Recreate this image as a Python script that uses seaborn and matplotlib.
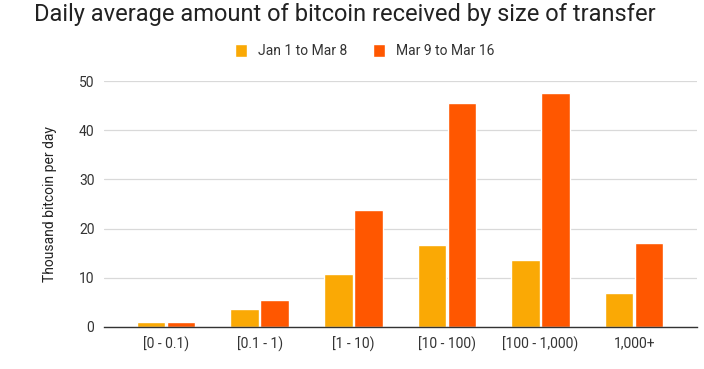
import pandas as pd
import matplotlib.pyplot as plt
import seaborn as sns

# Data (thousand bitcoin per day)
categories = ["[0 - 0.1)", "[0.1 - 1)", "[1 - 10)", "[10 - 100)", "[100 - 1,000)", "1,000+"]
jan_to_mar8 = [1.0, 3.7, 10.8, 16.6, 13.6, 7.0]
mar9_to_mar16 = [1.0, 5.5, 23.8, 45.6, 47.5, 17.0]
series_names = ["Jan 1 to Mar 8", "Mar 9 to Mar 16"]
colors = ["#FAA905", "#FF5700"]

df = pd.DataFrame({
    "size": categories * 2,
    "value": jan_to_mar8 + mar9_to_mar16,
    "period": [series_names[0]] * len(categories) + [series_names[1]] * len(categories),
})

sns.set_theme(style="white")
plt.rcParams["font.family"] = ["Roboto", "DejaVu Sans"]

fig = plt.figure(figsize=(7.04, 3.69), dpi=100)
ax = fig.add_axes([0.148, 0.114, 0.842, 0.666])

sns.barplot(data=df, x="size", y="value", hue="period", palette=colors,
            width=0.64, gap=0.05, saturation=1, ax=ax)

ax.set_xlim(-0.66, 5.67)
ax.set_ylim(0, 50)
ax.set_yticks([0, 10, 20, 30, 40, 50])
ax.yaxis.grid(True, color="#d9d9d9", linewidth=0.9)
ax.set_axisbelow(True)
for s in ["top", "right", "left"]:
    ax.spines[s].set_visible(False)
ax.spines["bottom"].set_color("#333333")
ax.spines["bottom"].set_linewidth(1.0)
ax.tick_params(axis="both", length=0, labelsize=10, colors="#333333", pad=7)
ax.set_xlabel("")
ax.set_ylabel("Thousand bitcoin per day", fontsize=10, color="#222222", labelpad=16)

ax.legend(loc="upper center", ncol=2, frameon=False, fontsize=10,
          handlelength=0.9, handleheight=1.1, columnspacing=1.8,
          handletextpad=0.8, labelcolor="#333333")
ax.legend_.set_bbox_to_anchor((0.518, 0.915), transform=fig.transFigure)

fig.text(0.048, 0.96, "Daily average amount of bitcoin received by size of transfer",
         fontsize=17, color="#222222", va="center", ha="left")

fig.savefig("out.png", dpi=100)
